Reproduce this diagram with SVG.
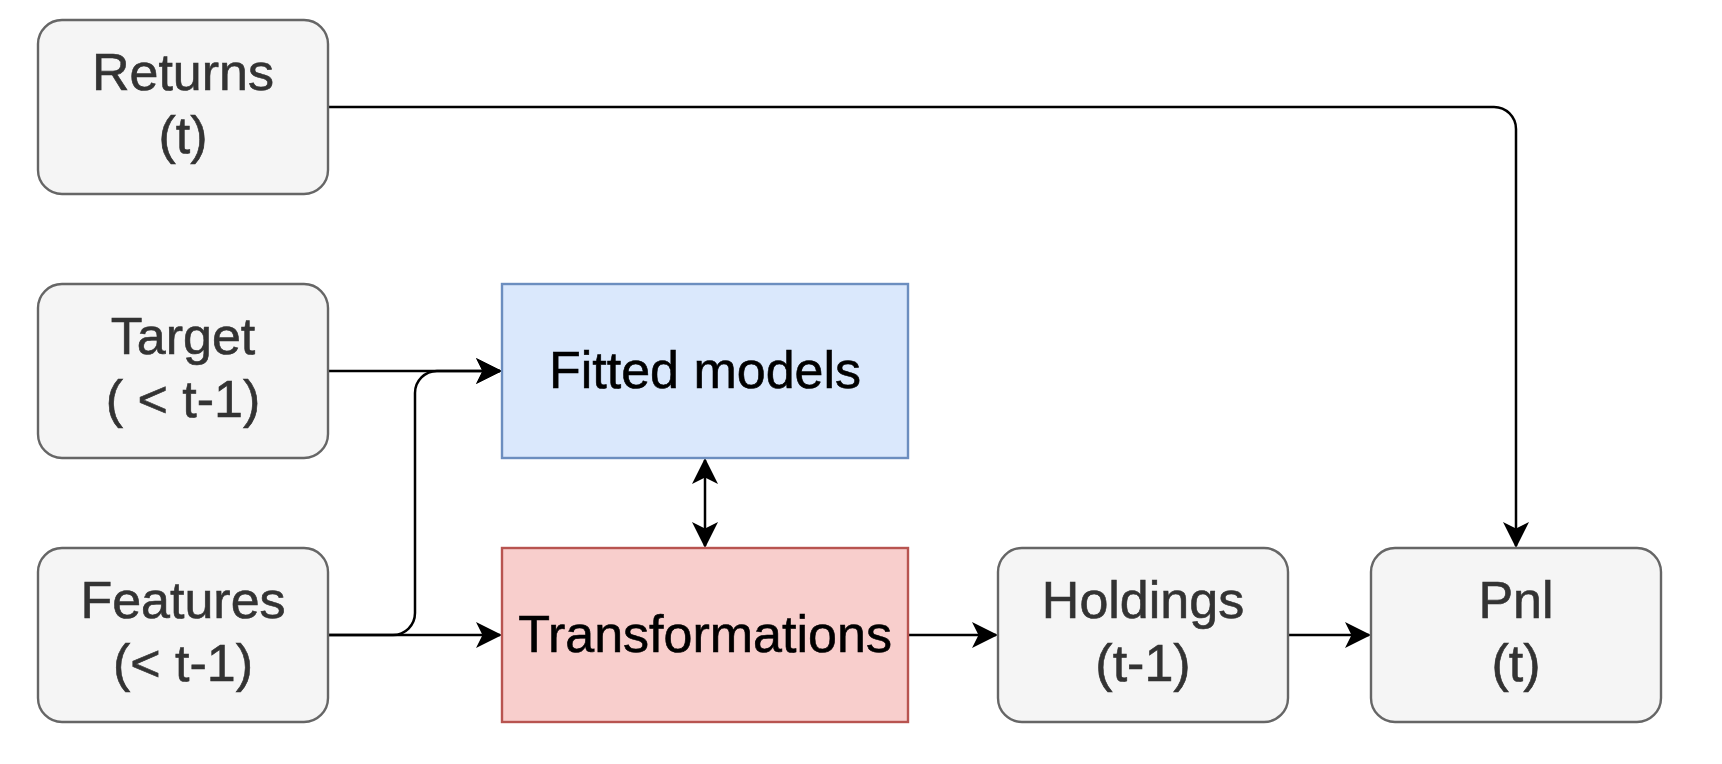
<svg xmlns="http://www.w3.org/2000/svg" width="1722" height="764" viewBox="0 0 1722 764">
  <style>
    .gray { fill: #f5f5f5; stroke: #666666; stroke-width: 2.4; }
    .blue { fill: #dae8fc; stroke: #6c8ebf; stroke-width: 2.4; }
    .red { fill: #f8cecc; stroke: #b85450; stroke-width: 2.4; }
    .t { font-family: "Liberation Sans", Arial, Helvetica, sans-serif; font-size: 52px; text-anchor: middle; stroke-width: 0.6; }
    .tg { fill: #333333; stroke: #333333; }
    .tb { fill: #000000; stroke: #000000; }
    .edge { fill: none; stroke: #000000; stroke-width: 2.5; }
  </style>
  <defs>
    <marker id="arrow" markerUnits="userSpaceOnUse" markerWidth="28" markerHeight="28" viewBox="0 0 28 28" refX="24" refY="13" orient="auto-start-reverse">
      <path d="M0,0 L26,13 L0,26 L6.5,13 Z" fill="#000000" stroke="none"/>
    </marker>
  </defs>
  <rect width="1722" height="764" fill="#ffffff"/>

  <g id="connectors">
    <path class="edge" d="M328,107 H1494 A22,22 0 0 1 1516,129 V546" marker-end="url(#arrow)"/>
    <path class="edge" d="M328,371 H500" marker-end="url(#arrow)"/>
    <path class="edge" d="M328,635 H500" marker-end="url(#arrow)"/>
    <path class="edge" d="M328,635 H393 A22,22 0 0 0 415,613 V393 A22,22 0 0 1 437,371 H500" marker-end="url(#arrow)"/>
    <path class="edge" d="M705,460 V546" marker-start="url(#arrow)" marker-end="url(#arrow)"/>
    <path class="edge" d="M908,635 H996" marker-end="url(#arrow)"/>
    <path class="edge" d="M1288,635 H1369" marker-end="url(#arrow)"/>
  </g>

  <g id="returns">
    <rect class="gray" x="38" y="20" width="290" height="174" rx="24" ry="24"/>
    <text class="t tg" x="183" y="90">Returns</text>
    <text class="t tg" x="183" y="153">(t)</text>
  </g>
  <g id="target">
    <rect class="gray" x="38" y="284" width="290" height="174" rx="24" ry="24"/>
    <text class="t tg" x="183" y="354">Target</text>
    <text class="t tg" x="183" y="417">( &lt; t-1)</text>
  </g>
  <g id="features">
    <rect class="gray" x="38" y="548" width="290" height="174" rx="24" ry="24"/>
    <text class="t tg" x="183" y="618">Features</text>
    <text class="t tg" x="183" y="681">(&lt; t-1)</text>
  </g>
  <g id="fitted-models">
    <rect class="blue" x="502" y="284" width="406" height="174"/>
    <text class="t tb" x="705" y="388">Fitted models</text>
  </g>
  <g id="transformations">
    <rect class="red" x="502" y="548" width="406" height="174"/>
    <text class="t tb" x="705" y="652">Transformations</text>
  </g>
  <g id="holdings">
    <rect class="gray" x="998" y="548" width="290" height="174" rx="24" ry="24"/>
    <text class="t tg" x="1143" y="618">Holdings</text>
    <text class="t tg" x="1143" y="681">(t-1)</text>
  </g>
  <g id="pnl">
    <rect class="gray" x="1371" y="548" width="290" height="174" rx="24" ry="24"/>
    <text class="t tg" x="1516" y="618">Pnl</text>
    <text class="t tg" x="1516" y="681">(t)</text>
  </g>
</svg>
